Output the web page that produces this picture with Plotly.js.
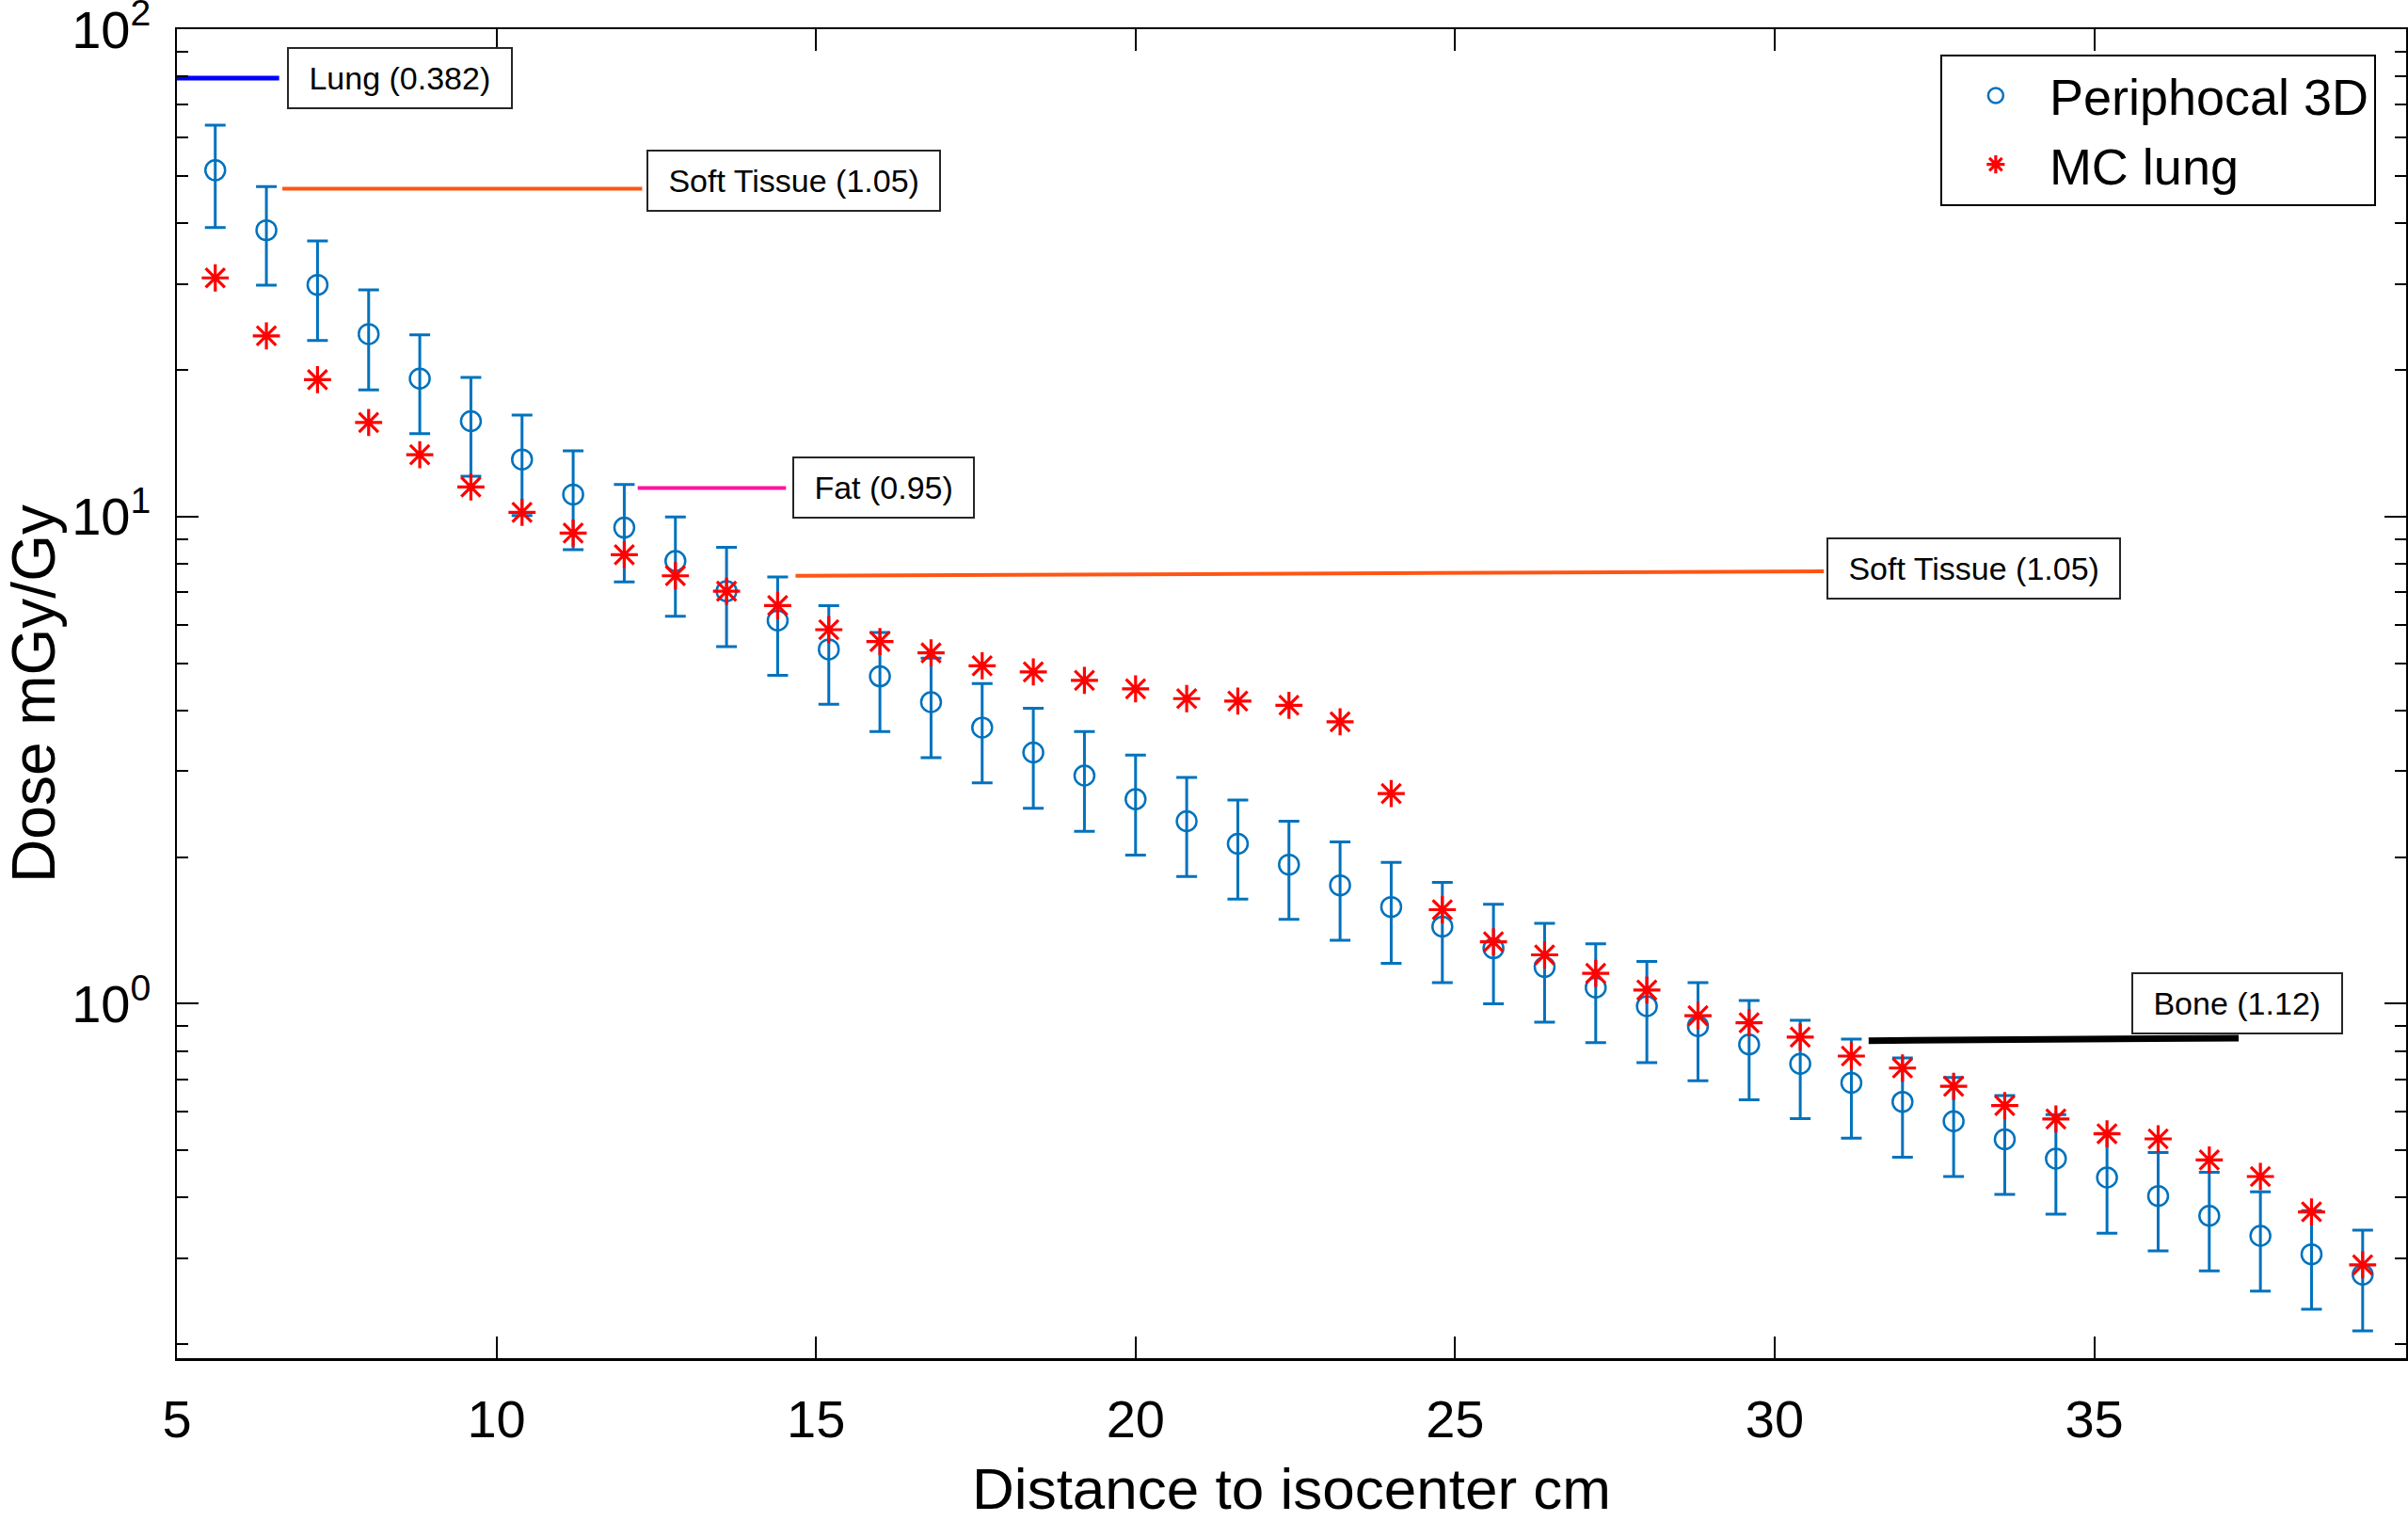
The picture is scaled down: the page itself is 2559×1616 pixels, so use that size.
<!DOCTYPE html>
<html>
<head>
<meta charset="utf-8">
<script src="https://cdn.plot.ly/plotly-3.0.1.min.js"></script>
<style>
  html, body { margin: 0; padding: 0; background: #fff; }
  #graph { width: 2559px; height: 1616px; }
</style>
</head>
<body>
<div id="graph"></div>
<script>
// distance to isocenter (cm)
const distance = [5.6, 6.4, 7.2, 8.0, 8.8, 9.6, 10.4, 11.2, 12.0, 12.8, 13.6, 14.4, 15.2, 16.0, 16.8,
  17.6, 18.4, 19.2, 20.0, 20.8, 21.6, 22.4, 23.2, 24.0, 24.8, 25.6, 26.4, 27.2, 28.0, 28.8,
  29.6, 30.4, 31.2, 32.0, 32.8, 33.6, 34.4, 35.2, 36.0, 36.8, 37.6, 38.4, 39.2];

// Periphocal 3D measured dose and its error
const periphocal = [51.4, 38.7, 29.9, 23.7, 19.2, 15.7, 13.1, 11.1, 9.49, 8.11, 7.03, 6.12, 5.34, 4.70, 4.16,
  3.69, 3.28, 2.94, 2.63, 2.37, 2.13, 1.93, 1.75, 1.58, 1.44, 1.30, 1.19, 1.08, 0.989, 0.90,
  0.825, 0.753, 0.688, 0.629, 0.574, 0.527, 0.481, 0.440, 0.403, 0.367, 0.334, 0.306, 0.278];
const periphocalErr = [12.2, 8.85, 6.9, 5.5, 4.4, 3.6, 3.05, 2.55, 2.15, 1.87, 1.62, 1.40, 1.22, 1.08, 0.96,
  0.85, 0.76, 0.68, 0.61, 0.545, 0.49, 0.44, 0.40, 0.37, 0.335, 0.30, 0.273, 0.248, 0.232, 0.205,
  0.19, 0.172, 0.158, 0.145, 0.132, 0.121, 0.111, 0.102, 0.092, 0.084, 0.077, 0.07, 0.065];

// Monte Carlo lung
const mcLung = [30.9, 23.5, 19.1, 15.6, 13.4, 11.5, 10.2, 9.25, 8.35, 7.56, 7.03, 6.57, 5.86, 5.54, 5.25,
  4.94, 4.80, 4.61, 4.43, 4.23, 4.18, 4.10, 3.79, 2.70, 1.56, 1.34, 1.26, 1.155, 1.067, 0.945,
  0.914, 0.854, 0.781, 0.738, 0.677, 0.618, 0.580, 0.541, 0.528, 0.478, 0.442, 0.374, 0.291];

// tissue segments (start/end distance, dose level)
const tissueNames = ['Lung (0.382)', 'Soft Tissue (1.05)', 'Fat (0.95)', 'Soft Tissue (1.05)', 'Bone (1.12)'];
const tissueX0 = [5.0, 6.65, 12.21, 14.68, 31.47];
const tissueX1 = [6.6, 12.28, 14.53, 30.77, 37.26];
const tissueY0 = [79.4, 47.1, 11.45, 7.56, 0.84];
const tissueY1 = [79.4, 47.1, 11.45, 7.72, 0.85];
// label box anchor (left edge, middle)
const labelX = [6.72, 12.35, 14.63, 30.81, 35.58];
const labelY = [79.3, 48.9, 11.45, 7.83, 1.0];

const xTicks = [5, 10, 15, 20, 25, 30, 35];
const yTicks = [1, 10, 100];
const yTickText = ['10<sup>0</sup>', '10<sup>1</sup>', '10<sup>2</sup>'];

const segColors = ['#0000FF', '#FF5514', '#FF14A0', '#FF5514', '#000000'];
const segWidths = [5, 4, 4, 4, 7];

const FONT = 'Liberation Sans, Arial, Helvetica, sans-serif';

let minorVals = [];
for (let e = -1; e <= 1; e++) {
  for (let m = 2; m <= 9; m++) minorVals.push(m * Math.pow(10, e));
}

const traces = [];
traces.push({
  x: distance,
  y: periphocal,
  error_y: { type: 'data', array: periphocalErr, visible: true, color: '#0072BD', thickness: 3, width: 11 },
  mode: 'markers',
  name: 'Periphocal 3D',
  marker: { symbol: 'circle-open', size: 21, color: '#0072BD', line: { width: 2.5, color: '#0072BD' } }
});
traces.push({
  x: distance,
  y: mcLung,
  mode: 'markers',
  name: 'MC lung',
  marker: { symbol: 'asterisk-open', size: 24, color: '#FF0000', line: { width: 3.2, color: '#FF0000' } }
});
for (let i = 0; i < tissueNames.length; i++) {
  traces.push({
    x: [tissueX0[i], tissueX1[i]],
    y: [tissueY0[i], tissueY1[i]],
    mode: 'lines',
    showlegend: false,
    hoverinfo: 'skip',
    line: { color: segColors[i], width: segWidths[i] }
  });
}

// a no-break space each side widens the box a little, like the original labels
const annotations = tissueNames.map(function(name, i) {
  return {
    x: labelX[i],
    y: Math.log10(labelY[i]),
    xref: 'x', yref: 'y',
    xanchor: 'left', yanchor: 'middle',
    text: '\u00a0' + name + '\u00a0',
    showarrow: false,
    font: { family: FONT, size: 34, color: '#000' },
    bgcolor: '#fff',
    bordercolor: '#262626',
    borderwidth: 2,
    borderpad: 12
  };
});

const layout = {
  width: 2559,
  height: 1616,
  margin: { l: 188, r: 2, t: 31, b: 173, pad: 0 },
  paper_bgcolor: '#fff',
  plot_bgcolor: '#fff',
  font: { family: FONT, size: 56, color: '#000' },
  showlegend: true,
  legend: {
    x: 0.791, y: 0.981, xanchor: 'left', yanchor: 'top',
    bgcolor: '#fff', bordercolor: '#000', borderwidth: 2,
    font: { family: FONT, size: 54, color: '#000' },
    itemwidth: 104,
    tracegroupgap: 0
  },
  xaxis: {
    range: [5, 39.88],
    tickmode: 'array',
    tickvals: xTicks,
    ticks: 'inside', ticklen: 23, tickwidth: 2, tickcolor: '#000',
    showline: true, linecolor: '#000', linewidth: 2.5, mirror: 'ticks',
    showgrid: false, zeroline: false,
    ticklabelstandoff: 14,
    tickfont: { family: FONT, size: 56, color: '#000' },
    title: { text: 'Distance to isocenter cm', font: { family: FONT, size: 62, color: '#000' }, standoff: 30 }
  },
  yaxis: {
    type: 'log',
    range: [-0.7275, 2.0005],
    tickmode: 'array',
    tickvals: yTicks,
    ticktext: yTickText,
    ticks: 'inside', ticklen: 23, tickwidth: 2, tickcolor: '#000',
    minor: { tickmode: 'array', tickvals: minorVals, ticks: 'inside', ticklen: 12, tickwidth: 2, tickcolor: '#000', showgrid: false },
    showline: true, linecolor: '#000', linewidth: 2.5, mirror: 'ticks',
    showgrid: false, zeroline: false,
    ticklabelstandoff: 14,
    ticklabeloverflow: 'allow',
    tickfont: { family: FONT, size: 56, color: '#000' },
    title: { text: 'Dose mGy/Gy', font: { family: FONT, size: 64, color: '#000' }, standoff: 22 }
  },
  annotations: annotations
};

Plotly.newPlot('graph', traces, layout, { displayModeBar: false, staticPlot: true });
</script>
</body>
</html>
